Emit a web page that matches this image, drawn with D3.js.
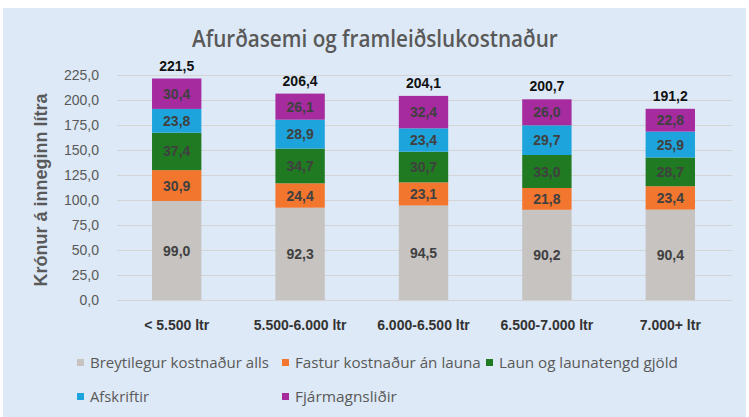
<!DOCTYPE html>
<html>
<head>
<meta charset="utf-8">
<script src="https://cdn.jsdelivr.net/npm/d3@7"></script>
<style>
  body { margin: 0; background: #ffffff; }
  svg { display: block; }
</style>
</head>
<body>
<div id="chart"></div>
<script>
// categories and series values (kr. per liter)
const categories = ["< 5.500 ltr", "5.500-6.000 ltr", "6.000-6.500 ltr", "6.500-7.000 ltr", "7.000+ ltr"];
const seriesNames = ["Breytilegur kostnaður alls", "Fastur kostnaður án launa", "Laun og launatengd gjöld", "Afskriftir", "Fjármagnsliðir"];
const breytilegur = [99.0, 92.3, 94.5, 90.2, 90.4];
const fastur = [30.9, 24.4, 23.1, 21.8, 23.4];
const laun = [37.4, 34.7, 30.7, 33.0, 28.7];
const afskriftir = [23.8, 28.9, 23.4, 29.7, 25.9];
const fjarmagn = [30.4, 26.1, 32.4, 26.0, 22.8];
const totals = [221.5, 206.4, 204.1, 200.7, 191.2];
const yTicks = [0, 25, 50, 75, 100, 125, 150, 175, 200, 225];

const colors = ["#c6c3c0", "#f2762e", "#1f7a22", "#1ea4dc", "#a52b9f"];

const W = 749, H = 417;
const margin = {top: 75, right: 17, bottom: 117, left: 115};

const svg = d3.select("#chart").append("svg")
    .attr("width", W)
    .attr("height", H);

// squeeze a text horizontally so it fits the width seen in the reference
function fitWidth(sel, widthFn, x0) {
    sel.each(function(d, i) {
        const natural = this.getComputedTextLength();
        const s = widthFn(d, i) / natural;
        d3.select(this).attr("transform", `translate(${x0},0) scale(${s},1)`);
    });
}

// background panel
svg.append("rect")
    .attr("x", 3).attr("y", 8)
    .attr("width", W - 6).attr("height", H - 8)
    .attr("fill", "#dde9f6");

const x = d3.scaleBand()
    .domain(categories)
    .range([margin.left, W - margin.right])
    .paddingInner(0.6)
    .paddingOuter(0.3);

const y = d3.scaleLinear()
    .domain([0, 225])
    .range([H - margin.bottom, margin.top]);

// gridlines
svg.append("g")
    .selectAll("line")
    .data(yTicks)
    .join("line")
    .attr("x1", margin.left + 2)
    .attr("x2", W - margin.right)
    .attr("y1", d => Math.round(y(d)) + 0.5)
    .attr("y2", d => Math.round(y(d)) + 0.5)
    .attr("stroke", "#d4d4d4")
    .attr("stroke-width", 1);

// y axis labels
const fmt = v => v.toFixed(1).replace(".", ",");
const yAxis = d3.axisLeft(y).tickValues(yTicks).tickFormat(fmt).tickSize(0).tickPadding(0);
svg.append("g")
    .attr("transform", `translate(99,0)`)
    .call(yAxis)
    .call(g => g.select(".domain").remove())
    .call(g => g.selectAll("text")
        .attr("fill", "#595959")
        .attr("font-family", "Liberation Sans, Arial, sans-serif")
        .attr("font-size", "14px"));

// stacked data
const rows = categories.map((c, i) => ({
    cat: c,
    s0: breytilegur[i], s1: fastur[i], s2: laun[i], s3: afskriftir[i], s4: fjarmagn[i]
}));
const stack = d3.stack().keys(["s0", "s1", "s2", "s3", "s4"]);
const stacked = stack(rows);

const layers = svg.append("g")
    .selectAll("g")
    .data(stacked)
    .join("g")
    .attr("fill", (d, i) => colors[i]);

layers.selectAll("rect")
    .data(d => d)
    .join("rect")
    .attr("x", d => x(d.data.cat))
    .attr("width", x.bandwidth())
    .attr("y", d => y(d[1]))
    .attr("height", d => y(d[0]) - y(d[1]));

// segment labels
layers.selectAll("text")
    .data(d => d)
    .join("text")
    .attr("x", d => x(d.data.cat) + x.bandwidth() / 2)
    .attr("y", d => (y(d[0]) + y(d[1])) / 2)
    .attr("dy", "0.36em")
    .attr("text-anchor", "middle")
    .attr("fill", "#404040")
    .attr("font-family", "Liberation Sans, Arial, sans-serif")
    .attr("font-weight", "bold")
    .attr("font-size", "14px")
    .text(d => fmt(d[1] - d[0]));

// totals
svg.append("g")
    .selectAll("text")
    .data(totals)
    .join("text")
    .attr("x", (d, i) => x(categories[i]) + x.bandwidth() / 2)
    .attr("y", d => y(d) - 8)
    .attr("text-anchor", "middle")
    .attr("fill", "#111111")
    .attr("font-family", "Liberation Sans, Arial, sans-serif")
    .attr("font-weight", "bold")
    .attr("font-size", "14px")
    .text(d => fmt(d));

// category labels
svg.append("g")
    .selectAll("text")
    .data(categories)
    .join("text")
    .attr("x", d => x(d) + x.bandwidth() / 2)
    .attr("y", 330)
    .attr("text-anchor", "middle")
    .attr("fill", "#333333")
    .attr("font-family", "Liberation Sans, Arial, sans-serif")
    .attr("font-weight", "bold")
    .attr("font-size", "14px")
    .text(d => d);

// title
svg.append("text")
    .attr("x", 0)
    .attr("y", 47)
    .attr("fill", "#595959")
    .attr("font-family", "Open Sans, sans-serif")
    .attr("font-weight", 600)
    .attr("font-size", "23px")
    .text("Afurðasemi og framleiðslukostnaður")
    .call(fitWidth, () => 366, 192);

// y axis title
svg.append("text")
    .attr("transform", "translate(47,190) rotate(-90)")
    .attr("text-anchor", "middle")
    .attr("fill", "#595959")
    .attr("font-family", "Liberation Sans, Arial, sans-serif")
    .attr("font-weight", "bold")
    .attr("font-size", "18px")
    .text("Krónur á inneginn lítra");

// legend
const legendPos = [[77, 363], [282, 363], [486, 363], [77, 397], [282, 397]];
const legendW = [179, 186, 179, 59, 102];
const legend = svg.append("g")
    .selectAll("g")
    .data(seriesNames)
    .join("g")
    .attr("transform", (d, i) => `translate(${legendPos[i][0]},${legendPos[i][1]})`);

legend.append("rect")
    .attr("x", 0).attr("y", -4)
    .attr("width", 7).attr("height", 7)
    .attr("fill", (d, i) => colors[i]);

legend.append("text")
    .attr("x", 0)
    .attr("y", 0)
    .attr("dy", "0.36em")
    .attr("fill", "#595959")
    .attr("font-family", "Open Sans, sans-serif")
    .attr("font-size", "14px")
    .text(d => d)
    .call(fitWidth, (d, i) => legendW[i], 13);
</script>
</body>
</html>
